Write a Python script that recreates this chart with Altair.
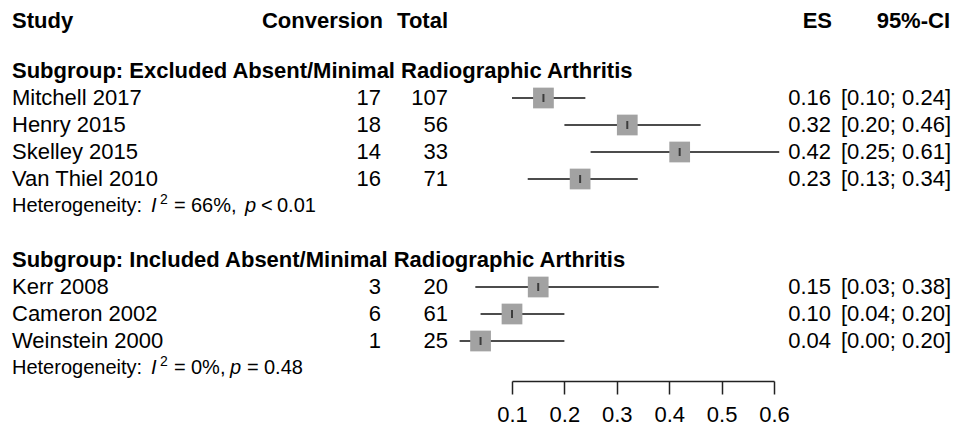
import altair as alt
import pandas as pd

FONT = "Liberation Sans"

# ---------------- data ----------------
studies = ["Mitchell 2017", "Henry 2015", "Skelley 2015", "Van Thiel 2010",
           "Kerr 2008", "Cameron 2002", "Weinstein 2000"]
conversion = [17, 18, 14, 16, 3, 6, 1]
total = [107, 56, 33, 71, 20, 61, 25]
es = [0.16, 0.32, 0.42, 0.23, 0.15, 0.10, 0.04]
ci_low = [0.10, 0.20, 0.25, 0.13, 0.03, 0.04, 0.00]
ci_high = [0.24, 0.46, 0.61, 0.34, 0.38, 0.20, 0.20]
study_rows = [3, 4, 5, 6, 10, 11, 12]

subgroups = ["Subgroup: Excluded Absent/Minimal Radiographic Arthritis",
             "Subgroup: Included Absent/Minimal Radiographic Arthritis"]
subgroup_rows = [2, 9]

het_rows = [7, 13]
het_i2 = ["66%,", "0%,"]
het_p_op = ["<", "="]
het_p_val = ["0.01", "0.48"]

headers = ["Study", "Conversion", "Total", "ES", "95%-CI"]
tick_values = [0.1, 0.2, 0.3, 0.4, 0.5, 0.6]

# ---------------- tables ----------------
df = pd.DataFrame({
    "row": study_rows,
    "study": studies,
    "conv": [str(v) for v in conversion],
    "tot": [str(v) for v in total],
    "es": es,
    "lo": ci_low,
    "hi": ci_high,
})
df["es_txt"] = [f"{v:.2f}" for v in es]
df["ci_txt"] = [f"[{a:.2f}; {b:.2f}]" for a, b in zip(ci_low, ci_high)]

sub_df = pd.DataFrame({"row": subgroup_rows, "label": subgroups})

yscale = alt.Scale(domain=[0, 13], range=[9, 360])
Y = alt.Y("row:Q", scale=yscale, axis=None)
xscale = alt.Scale(domain=[0.1, 0.6], range=[504, 766], zero=False, nice=False)
xaxis = alt.Axis(values=tick_values, format=".1f", tickSize=13, tickWidth=1.5,
                 tickColor="#222", domainColor="#222", domainWidth=1.5,
                 labelFontSize=22, labelFont=FONT, labelColor="black",
                 labelPadding=10, grid=False, title=None, labelFlush=False)

base = alt.Chart(df)

ci = base.mark_rule(color="#111", strokeWidth=1.6).encode(
    x=alt.X("lo:Q", scale=xscale, axis=xaxis), x2="hi:Q", y=Y)
sq = base.mark_square(size=430, color="#a2a2a2", opacity=1).encode(
    x=alt.X("es:Q", scale=xscale), y=Y)
tk = base.mark_tick(orient="vertical", size=8, thickness=2, color="#111").encode(
    x=alt.X("es:Q", scale=xscale), y=Y)


def col(data, field, x, align, size=22, bold=False, italic=False, dy=0):
    return alt.Chart(data).mark_text(
        align=align, baseline="middle", font=FONT, fontSize=size,
        fontWeight="bold" if bold else "normal",
        fontStyle="italic" if italic else "normal", dy=dy, color="black"
    ).encode(x=alt.value(x), y=Y, text=f"{field}:N")


layers = [ci, sq, tk]

# headers
head_x = [(4, "left"), (375, "right"), (440, "right"), (824, "right"), (942, "right")]
for h, (x, a) in zip(headers, head_x):
    layers.append(col(pd.DataFrame({"row": [0], "t": [h]}), "t", x, a, bold=True, dy=4))

# subgroup headers
layers.append(col(sub_df, "label", 4, "left", bold=True))

# study columns
layers.append(col(df, "study", 4, "left"))
layers.append(col(df, "conv", 373, "right"))
layers.append(col(df, "tot", 440, "right"))
layers.append(col(df, "es_txt", 823, "right"))
layers.append(col(df, "ci_txt", 943, "right"))

# heterogeneity lines (pieces so I and p can be italic, 2 superscript)
het_df = pd.DataFrame({"row": het_rows, "a": ["Heterogeneity:"] * 2,
                       "i": ["I"] * 2, "s": ["2"] * 2, "eq": ["="] * 2,
                       "i2": het_i2, "p": ["p"] * 2,
                       "op": het_p_op, "pv": het_p_val})
layers.append(col(het_df, "a", 4, "left", size=20))
layers.append(col(het_df, "i", 143, "left", size=20, italic=True))
layers.append(col(het_df, "s", 152, "left", size=14, dy=-6))
layers.append(col(het_df, "eq", 166, "left", size=20))
layers.append(col(het_df, "i2", 183, "left", size=20))
p_x = [237, 222]
op_x = [253, 239]
pv_x = [269, 256]
for k in range(2):
    d = het_df.iloc[[k]]
    layers.append(col(d, "p", p_x[k], "left", size=20, italic=True))
    layers.append(col(d, "op", op_x[k], "left", size=20))
    layers.append(col(d, "pv", pv_x[k], "left", size=20))

chart = alt.layer(*layers).properties(
    width=944, height=373,
    autosize=alt.AutoSizeParams(type="none"),
    padding={"left": 0, "top": 0, "right": 0, "bottom": 45},
).configure(background="white", view=alt.ViewConfig(stroke=None))

chart.save("out.html", embed_options={"renderer": "svg", "actions": False})
